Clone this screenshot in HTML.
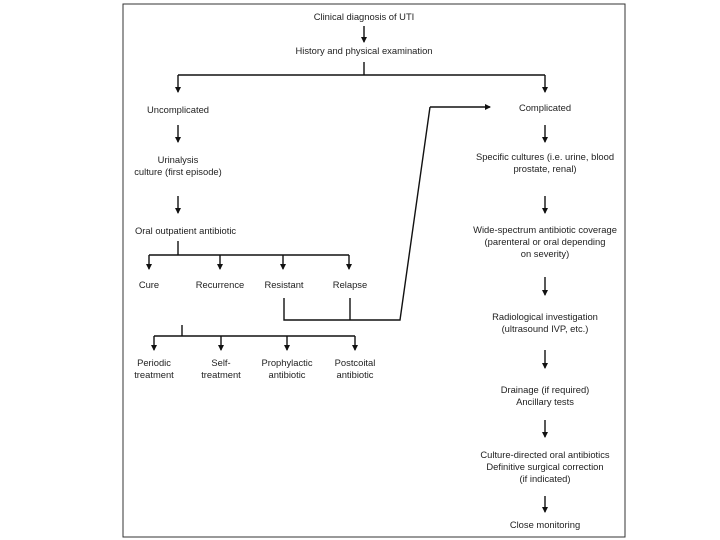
<!DOCTYPE html>
<html><head><style>
html,body{margin:0;padding:0;background:#fff;}
svg{display:block;}
text{font-family:"Liberation Sans",sans-serif;font-size:9.4px;fill:#222;text-anchor:middle;}
line,polyline{stroke:#111;stroke-width:1.4;fill:none;}
</style></head><body>
<svg width="720" height="540" viewBox="0 0 720 540">
<defs><marker id="a" markerWidth="6" markerHeight="6" refX="5" refY="3" orient="auto" markerUnits="userSpaceOnUse"><path d="M0,0 L6,3 L0,6 z" fill="#111"/></marker></defs>
<rect x="123" y="4" width="502" height="533" fill="none" stroke="#333" stroke-width="1"/>
<text x="364" y="20">Clinical diagnosis of UTI</text>
<line x1="364" y1="26" x2="364" y2="42" marker-end="url(#a)"/>
<text x="364" y="54">History and physical examination</text>
<polyline points="364,62 364,75"/>
<polyline points="178,75 545,75"/>
<line x1="178" y1="75" x2="178" y2="92" marker-end="url(#a)"/>
<line x1="545" y1="75" x2="545" y2="92" marker-end="url(#a)"/>
<text x="178" y="113">Uncomplicated</text>
<text x="545" y="111">Complicated</text>
<line x1="178" y1="125" x2="178" y2="142" marker-end="url(#a)"/>
<text x="178" y="163">Urinalysis</text>
<text x="178" y="175">culture (first episode)</text>
<line x1="178" y1="196" x2="178" y2="213" marker-end="url(#a)"/>
<text x="135" y="234" style="text-anchor:start">Oral outpatient antibiotic</text>
<polyline points="178,241 178,255"/>
<polyline points="149,255 349,255"/>
<line x1="149" y1="255" x2="149" y2="269" marker-end="url(#a)"/>
<line x1="220" y1="255" x2="220" y2="269" marker-end="url(#a)"/>
<line x1="283" y1="255" x2="283" y2="269" marker-end="url(#a)"/>
<line x1="349" y1="255" x2="349" y2="269" marker-end="url(#a)"/>
<text x="149" y="288">Cure</text>
<text x="220" y="288">Recurrence</text>
<text x="284" y="288">Resistant</text>
<text x="350" y="288">Relapse</text>
<polyline points="284,298 284,320 400,320 430,107"/>
<polyline points="350,298 350,320"/>
<line x1="430" y1="107" x2="490" y2="107" marker-end="url(#a)"/>
<polyline points="182,325 182,336"/>
<polyline points="154,336 355,336"/>
<line x1="154" y1="336" x2="154" y2="350" marker-end="url(#a)"/>
<line x1="221" y1="336" x2="221" y2="350" marker-end="url(#a)"/>
<line x1="287" y1="336" x2="287" y2="350" marker-end="url(#a)"/>
<line x1="355" y1="336" x2="355" y2="350" marker-end="url(#a)"/>
<text x="154" y="366">Periodic</text><text x="154" y="378">treatment</text>
<text x="221" y="366">Self-</text><text x="221" y="378">treatment</text>
<text x="287" y="366">Prophylactic</text><text x="287" y="378">antibiotic</text>
<text x="355" y="366">Postcoital</text><text x="355" y="378">antibiotic</text>
<line x1="545" y1="125" x2="545" y2="142" marker-end="url(#a)"/>
<text x="545" y="160">Specific cultures (i.e. urine, blood</text>
<text x="545" y="172">prostate, renal)</text>
<line x1="545" y1="196" x2="545" y2="213" marker-end="url(#a)"/>
<text x="545" y="233">Wide-spectrum antibiotic coverage</text>
<text x="545" y="245">(parenteral or oral depending</text>
<text x="545" y="257">on severity)</text>
<line x1="545" y1="277" x2="545" y2="295" marker-end="url(#a)"/>
<text x="545" y="320">Radiological investigation</text>
<text x="545" y="332">(ultrasound IVP, etc.)</text>
<line x1="545" y1="350" x2="545" y2="368" marker-end="url(#a)"/>
<text x="545" y="393">Drainage (if required)</text>
<text x="545" y="405">Ancillary tests</text>
<line x1="545" y1="420" x2="545" y2="437" marker-end="url(#a)"/>
<text x="545" y="458">Culture-directed oral antibiotics</text>
<text x="545" y="470">Definitive surgical correction</text>
<text x="545" y="482">(if indicated)</text>
<line x1="545" y1="496" x2="545" y2="512" marker-end="url(#a)"/>
<text x="545" y="528">Close monitoring</text>
</svg>
</body></html>
